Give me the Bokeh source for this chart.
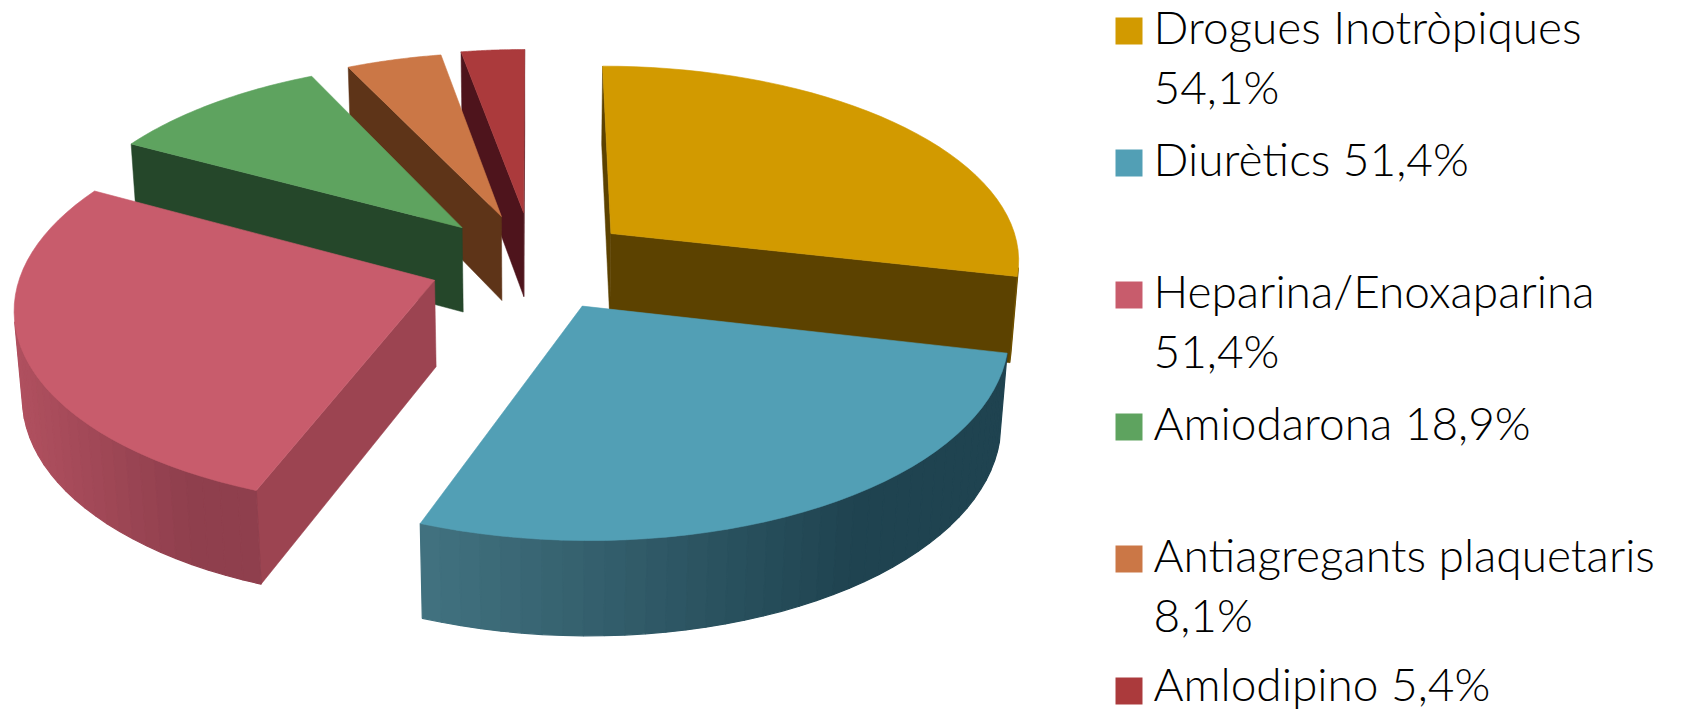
import numpy as np
from bokeh.plotting import figure
from bokeh.models import Range1d
from bokeh.core.properties import value
from bokeh.embed import file_html
from bokeh.resources import INLINE

names = ["Drogues Inotròpiques", "Diurètics", "Heparina/Enoxaparina", "Amiodarona", "Antiagregants plaquetaris", "Amlodipino"]
values = [54.1, 51.4, 51.4, 18.9, 8.1, 5.4]
pct_labels = ["54,1%", "51,4%", "51,4%", "18,9%", "8,1%", "5,4%"]
wrap_pct = [True, False, True, False, True, False]
top_colors = ["#d29a00", "#529fb5", "#c85c6c", "#5ea35f", "#cb7746", "#ab3a3c"]
side_colors = ["#5c4200", "#2c5566", "#9c4451", "#25472a", "#5e3418", "#4e141c"]
rim_left = ["#6e5000", "#41717f", "#b0505f", "#2f5a35", "#6e3d1c", "#5e1a22"]
rim_right = ["#5c4200", "#1f4350", "#8f3f4d", "#25472a", "#5e3418", "#4e141c"]
explode = [0.2463, 0.2457, 0.2532, 0.256, 0.2577, 0.2671]
draw_order = [5, 4, 3, 0, 2, 1]

CX, CY, F, TILT, DIST, H = 532.68, 262.36, 2977.44, 0.4927, 7.2416, 0.2404
FONT = "Lato Light"
FONT_SIZE = "46px"
TEXT_SHIFT = [-18, -18, -18, -18, -18, -21]

def project(x, y, z):
    u = y * np.sin(TILT) + z * np.cos(TILT)
    w = -y * np.cos(TILT) + z * np.sin(TILT)
    s = F / (DIST - w)
    return CX + s * x, CY - s * u

def hexmix(a, b, t):
    ca = [int(a[i:i + 2], 16) for i in (1, 3, 5)]
    cb = [int(b[i:i + 2], 16) for i in (1, 3, 5)]
    return "#%02x%02x%02x" % tuple(round(p + (q - p) * t) for p, q in zip(ca, cb))

def area(xs, ys):
    xs, ys = np.asarray(xs), np.asarray(ys)
    return 0.5 * np.sum(xs * np.roll(ys, -1) - np.roll(xs, -1) * ys)

p = figure(width=1686, height=712, output_backend="svg", toolbar_location=None,
           x_range=Range1d(0, 1686), y_range=Range1d(712, 0), min_border=0)
p.axis.visible = False
p.grid.visible = False
p.outline_line_color = None

fractions = np.array(values) / sum(values) * 2 * np.pi
starts = np.concatenate([[0], np.cumsum(fractions)[:-1]])

for i in draw_order:
    a0, a1 = starts[i], starts[i] + fractions[i]
    mid = (a0 + a1) / 2
    ox, oy = explode[i] * np.sin(mid), explode[i] * np.cos(mid)
    th = np.linspace(a0, a1, 40)
    ex, ey = ox + np.sin(th), oy + np.cos(th)
    bx = np.concatenate([[ox], ex])
    by = np.concatenate([[oy], ey])
    tx, ty = project(bx, by, 0.0)
    dx, dy = project(bx, by, -H)
    n = len(bx)
    faces = []
    for k in range(n):
        m = (k + 1) % n
        qx = [tx[k], tx[m], dx[m], dx[k]]
        qy = [ty[k], ty[m], dy[m], dy[k]]
        if area(qx, qy) > 0:
            continue
        is_rim = 1 <= k < n - 1
        faces.append((np.mean(qx), qx, qy, is_rim))
    rim_faces = [f for f in faces if f[3]]
    if rim_faces:
        xs = [f[0] for f in rim_faces]
        lo, hi = min(xs), max(xs)
    for _, qx, qy, is_rim in sorted(faces, key=lambda f: (f[3], f[0])):
        if is_rim:
            t = (np.mean(qx) - lo) / max(hi - lo, 1)
            color = hexmix(rim_left[i], rim_right[i], min(1.0, t * 1.35))
            p.patch(qx, qy, fill_color=color, line_color=color, line_width=1.2)
        else:
            color = side_colors[i]
            p.patch(qx, qy, fill_color=color, line_color=color, line_width=0.5)
    p.patch(tx, ty, fill_color=top_colors[i], line_color=top_colors[i], line_width=0.6)

LEG_X0, LEG_X1, LEG_TXT = 1115, 1142, 1153
for i, (name, pct) in enumerate(zip(names, pct_labels)):
    base = 44 + 132 * i
    p.quad(left=[LEG_X0], right=[LEG_X1], top=[base - 27], bottom=[base],
           fill_color=top_colors[i], line_color=None)
    lines = [name, pct] if wrap_pct[i] else [name + " " + pct]
    for j, line in enumerate(lines):
        p.text([LEG_TXT], [base + 60 * j + TEXT_SHIFT[i]], text=[line], text_font=value(FONT),
               text_font_size=value(FONT_SIZE), text_color="#000000",
               text_baseline="alphabetic", text_align="left")

open("out.html", "w").write(file_html(p, INLINE))
